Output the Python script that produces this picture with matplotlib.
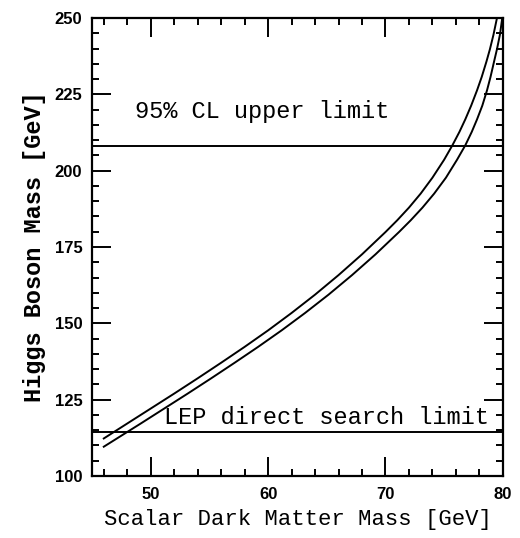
import numpy as np
import matplotlib.pyplot as plt
from matplotlib.ticker import MultipleLocator

# upper (left) curve
ms_up = [46.0, 48.0, 50.0, 52.0, 54.0, 56.0, 58.0, 60.0, 62.0, 64.0, 66.0, 68.0,
         70.0, 71.0, 72.0, 73.0, 74.0, 75.0, 75.7, 76.3, 76.8, 77.3, 77.8, 78.2,
         78.6, 78.9, 79.2, 79.5]
mh_up = [112.3, 117.2, 122.1, 127.0, 132.0, 137.1, 142.3, 147.7, 153.4, 159.4, 165.8, 172.6,
         179.9, 183.75, 187.9, 192.5, 197.7, 203.6, 208.3, 212.7, 216.8, 221.3, 226.3, 230.7,
         235.7, 239.8, 244.5, 250.0]
# lower (right) curve
ms_lo = [46.0, 49.15, 51.15, 53.15, 55.15, 57.15, 59.15, 61.15, 63.15, 65.15, 67.15, 69.15,
         71.15, 72.15, 73.15, 74.15, 75.15, 76.1, 76.8, 77.35, 77.8, 78.25, 78.65, 78.95,
         79.25, 79.5, 79.75, 79.95]
mh_lo = [109.6, 117.2, 122.1, 127.0, 132.0, 137.1, 142.3, 147.7, 153.4, 159.4, 165.8, 172.6,
         179.9, 183.75, 187.9, 192.5, 197.7, 203.6, 208.3, 212.7, 216.8, 221.3, 226.3, 230.7,
         235.7, 239.8, 244.5, 250.0]

cl_limit = 208.0
lep_limit = 114.4

fig = plt.figure(figsize=(5.2, 5.38), dpi=100)
ax = fig.add_axes([0.177, 0.1152, 0.79, 0.8513])

ax.plot(ms_up, mh_up, color='black', lw=1.4)
ax.plot(ms_lo, mh_lo, color='black', lw=1.4)
ax.axhline(cl_limit, color='black', lw=1.4)
ax.axhline(lep_limit, color='black', lw=1.4)

ax.text(59.5, 219.5, '95% CL upper limit', family='Liberation Mono', fontsize=17,
        ha='center', va='center')
ax.text(65.0, 119.2, 'LEP direct search limit', family='Liberation Mono', fontsize=17,
        ha='center', va='center')

ax.set_xlim(45, 80)
ax.set_ylim(100, 250)
ax.xaxis.set_major_locator(MultipleLocator(10))
ax.xaxis.set_minor_locator(MultipleLocator(2))
ax.yaxis.set_major_locator(MultipleLocator(25))
ax.yaxis.set_minor_locator(MultipleLocator(5))
ax.tick_params(which='both', direction='in', top=True, right=True, width=1.4)
ax.tick_params(which='major', length=14)
ax.tick_params(which='minor', length=5)
ax.tick_params(axis='x', which='major', pad=8)
ax.tick_params(axis='y', which='major', pad=7)
for lab in ax.get_xticklabels() + ax.get_yticklabels():
    lab.set_family('Liberation Sans')
    lab.set_fontweight('bold')
    lab.set_fontsize(12)
for s in ax.spines.values():
    s.set_linewidth(1.6)

ax.set_xlabel('Scalar Dark Matter Mass [GeV]', family='Liberation Mono', fontsize=16, labelpad=5)
ax.set_ylabel('Higgs Boson Mass [GeV]', family='Liberation Mono', fontsize=17,
              fontweight='bold', labelpad=6)

fig.savefig('out.png', dpi=100)
